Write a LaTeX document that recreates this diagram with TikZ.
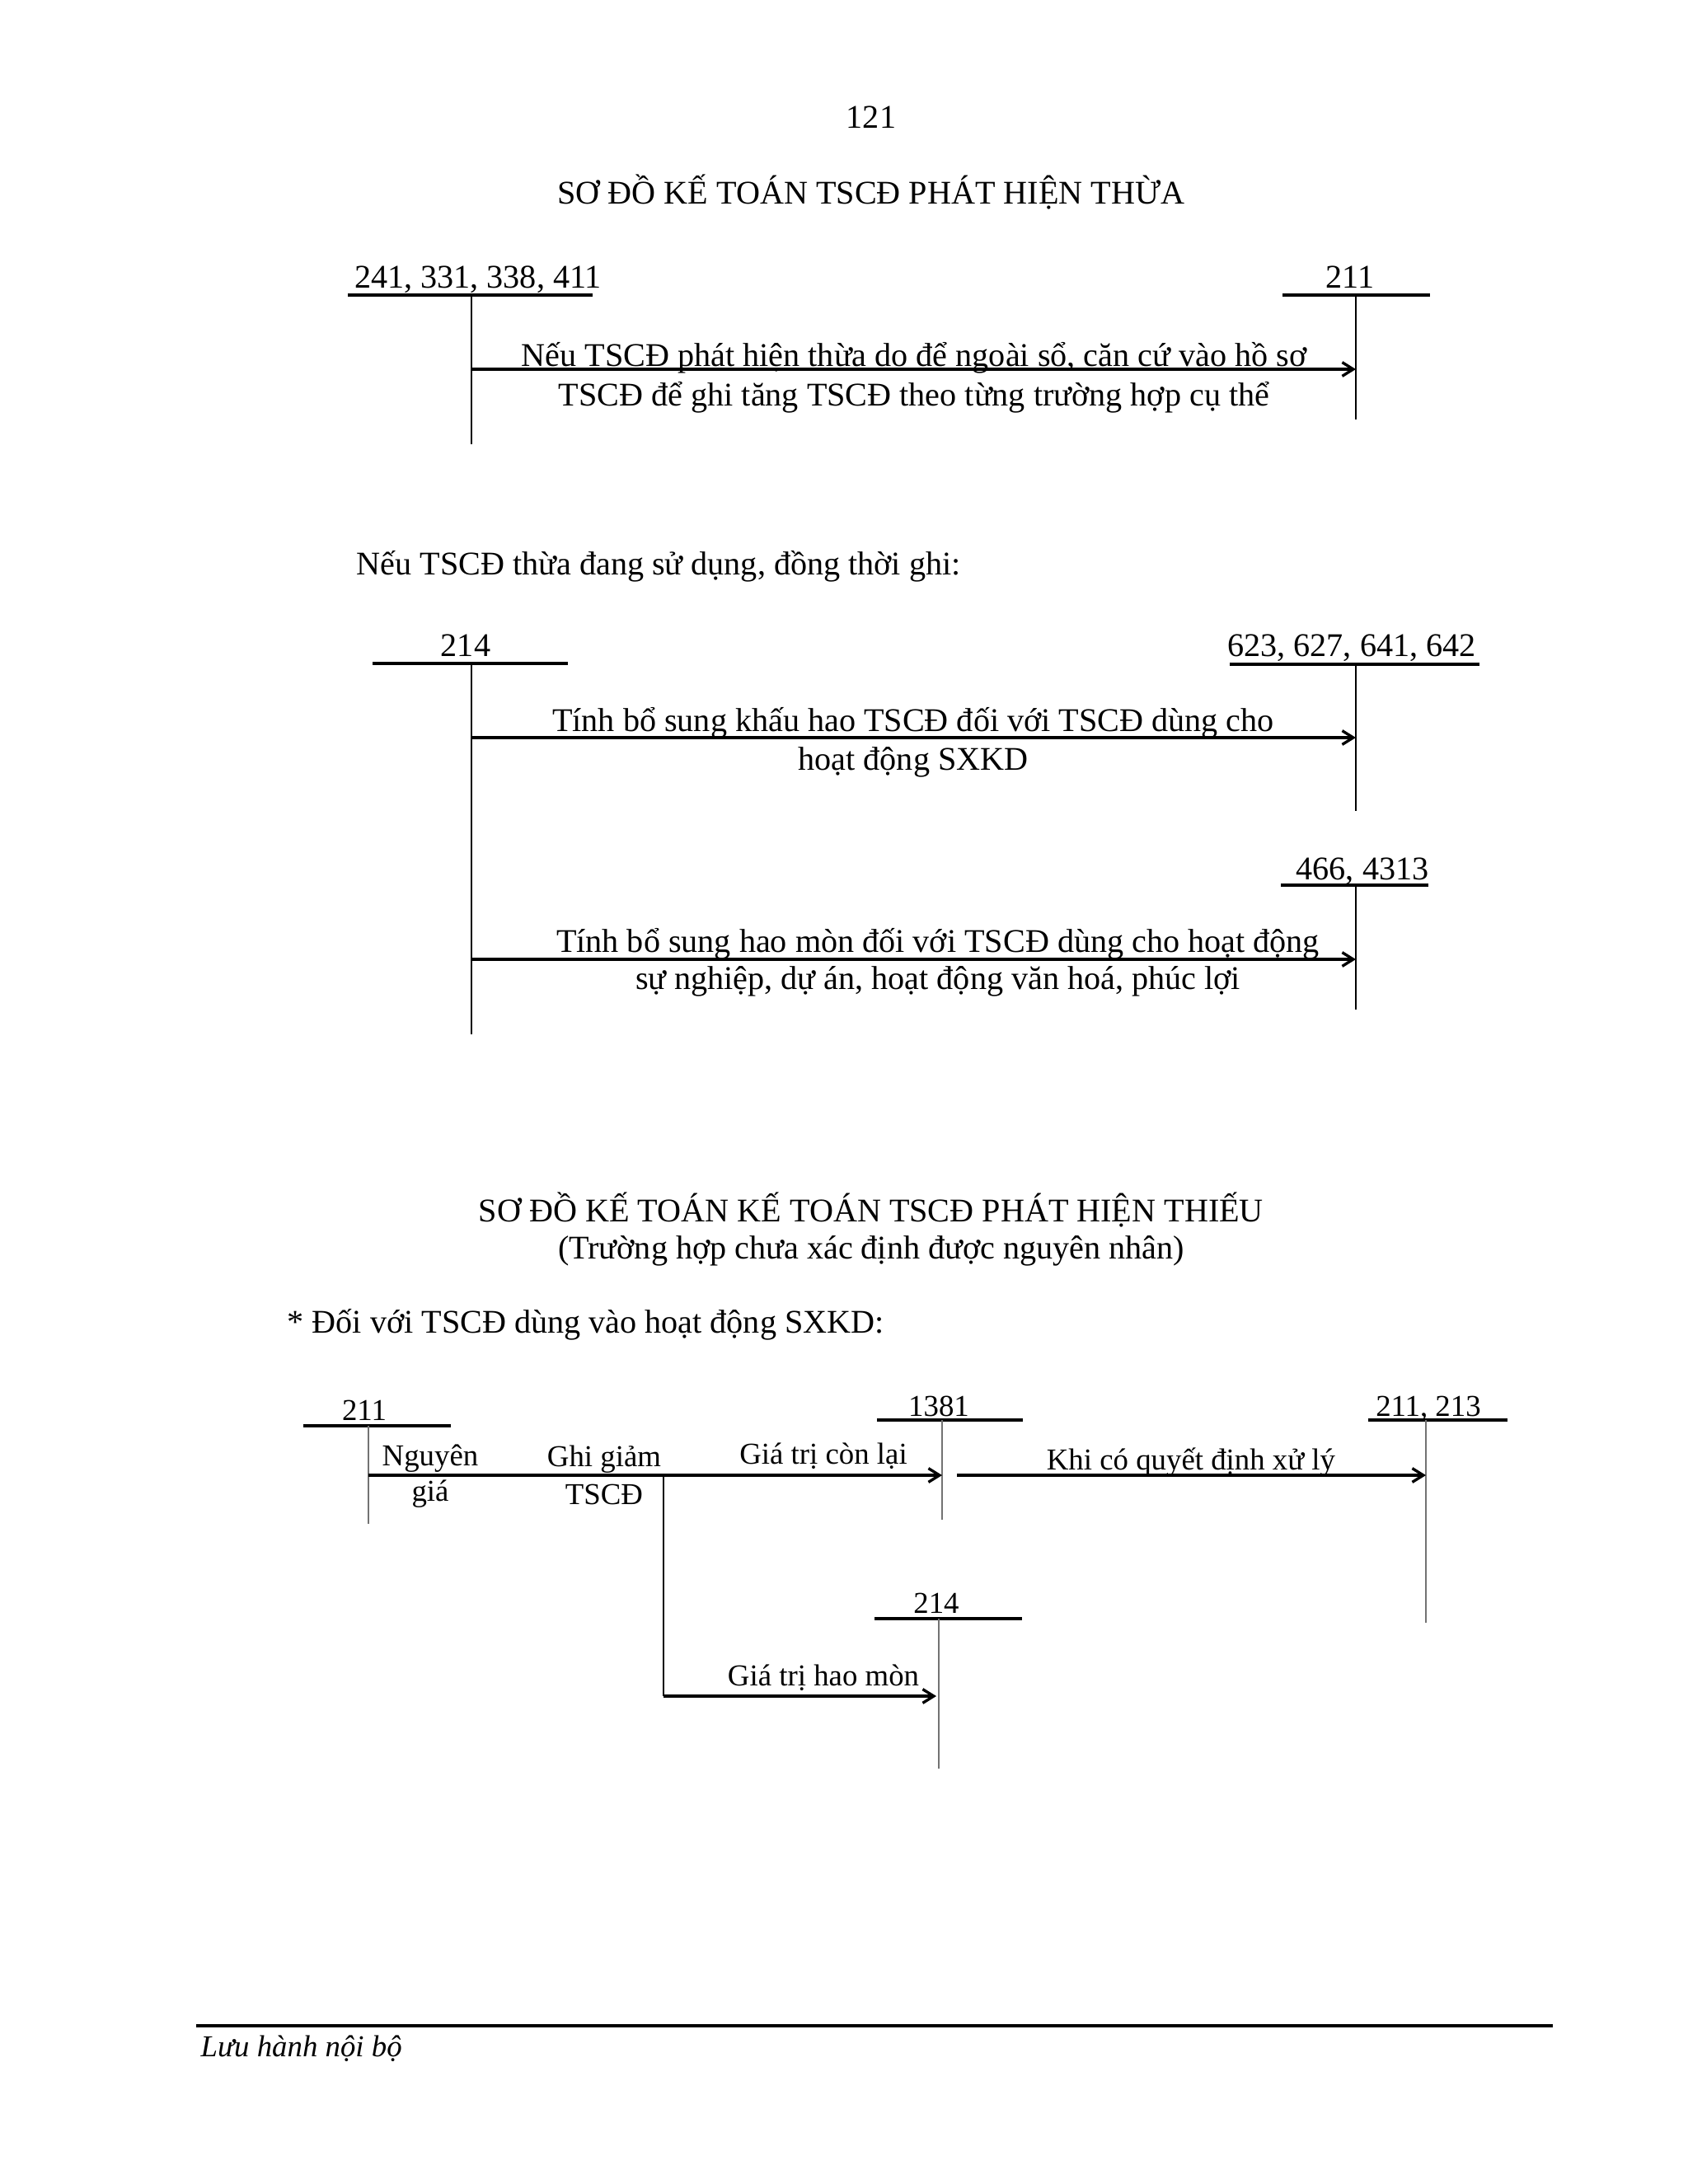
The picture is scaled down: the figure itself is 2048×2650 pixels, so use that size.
\documentclass[tikz,border=0pt]{standalone}
\usepackage{fontspec}
\setmainfont{Liberation Serif}
\usetikzlibrary{arrows.meta}
\begin{document}
\begin{tikzpicture}[x=0.29883pt,y=-0.29883pt,
  txt/.style={inner sep=0pt,anchor=base,font=\fontsize{12}{14}\selectfont},
  stxt/.style={inner sep=0pt,anchor=base,font=\fontsize{11}{13}\selectfont},
  uline/.style={line width=1pt},
  vline/.style={line width=0.5pt},
  gline/.style={line width=0.4pt,black!55},
  arr/.style={line width=1pt,-{Straight Barb[length=4pt,width=5pt]}},
]
\useasboundingbox (0,0) rectangle (2048,2650);
% page number and title
\node[txt] (pg) at (1057,155) {121};
\node[txt] (title1) at (1057,247) {SƠ ĐỒ KẾ TOÁN TSCĐ PHÁT HIỆN THỪA};
% diagram 1
\node[txt] (a1) at (580,349) {241, 331, 338, 411};
\node[txt] (b1) at (1638,349) {211};
\coordinate (a1l) at (422,358); \coordinate (a1r) at (719,358);
\coordinate (a1t) at (572,358); \coordinate (a1b) at (572,539);
\coordinate (b1l) at (1556,358); \coordinate (b1r) at (1735,358);
\coordinate (b1t) at (1645,358); \coordinate (b1b) at (1645,509);
\draw[uline] (a1l) -- (a1r);
\draw[uline] (b1l) -- (b1r);
\draw[vline] (a1t) -- (a1b);
\draw[vline] (b1t) -- (b1b);
\coordinate (e1s) at (572,448); \coordinate (e1e) at (1645,448);
\draw[arr] (e1s) -- (e1e);
\node[txt] (t1a) at (1109,444) {Nếu TSCĐ phát hiện thừa do để ngoài sổ, căn cứ vào hồ sơ};
\node[txt] (t1b) at (1109,492) {TSCĐ để ghi tăng TSCĐ theo từng trường hợp cụ thể};
% note
\node[txt,anchor=base west] (note1) at (432,697) {Nếu TSCĐ thừa đang sử dụng, đồng thời ghi:};
% diagram 2
\node[txt] (a2) at (565,796) {214};
\node[txt] (b2) at (1640,796) {623, 627, 641, 642};
\node[txt] (c2) at (1653,1067) {466, 4313};
\coordinate (a2l) at (452,805); \coordinate (a2r) at (689,805);
\coordinate (a2t) at (572,805); \coordinate (a2b) at (572,1255);
\coordinate (b2l) at (1492,806); \coordinate (b2r) at (1795,806);
\coordinate (b2t) at (1645,806); \coordinate (b2b) at (1645,984);
\coordinate (c2l) at (1554,1074); \coordinate (c2r) at (1733,1074);
\coordinate (c2t) at (1645,1074); \coordinate (c2b) at (1645,1225);
\draw[uline] (a2l) -- (a2r);
\draw[uline] (b2l) -- (b2r);
\draw[uline] (c2l) -- (c2r);
\draw[vline] (a2t) -- (a2b);
\draw[vline] (b2t) -- (b2b);
\draw[vline] (c2t) -- (c2b);
\coordinate (e2s) at (572,895); \coordinate (e2e) at (1645,895);
\coordinate (e3s) at (572,1164); \coordinate (e3e) at (1645,1164);
\draw[arr] (e2s) -- (e2e);
\draw[arr] (e3s) -- (e3e);
\node[txt] (t2a) at (1108,887) {Tính bổ sung khấu hao TSCĐ đối với TSCĐ dùng cho};
\node[txt] (t2b) at (1108,934) {hoạt động SXKD};
\node[txt] (t3a) at (1138,1155) {Tính bổ sung hao mòn đối với TSCĐ dùng cho hoạt động};
\node[txt] (t3b) at (1138,1200) {sự nghiệp, dự án, hoạt động văn hoá, phúc lợi};
% title 2
\node[txt] (title2) at (1057,1482) {SƠ ĐỒ KẾ TOÁN KẾ TOÁN TSCĐ PHÁT HIỆN THIẾU};
\node[txt] (sub2) at (1057,1527) {(Trường hợp chưa xác định được nguyên nhân)};
\node[txt,anchor=base west] (note2) at (348,1617) {* Đối với TSCĐ dùng vào hoạt động SXKD:};
% diagram 3
\node[stxt] (a3) at (442,1723) {211};
\node[stxt] (b3) at (1139,1718) {1381};
\node[stxt] (c3) at (1733,1718) {211, 213};
\node[stxt] (d3) at (1136,1957) {214};
\coordinate (a3l) at (368,1730); \coordinate (a3r) at (547,1730);
\coordinate (a3t) at (447,1730); \coordinate (a3b) at (447,1849);
\coordinate (b3l) at (1064,1723); \coordinate (b3r) at (1241,1723);
\coordinate (b3t) at (1143,1723); \coordinate (b3b) at (1143,1844);
\coordinate (c3l) at (1660,1723); \coordinate (c3r) at (1829,1723);
\coordinate (c3t) at (1730,1723); \coordinate (c3b) at (1730,1969);
\coordinate (d3l) at (1061,1964); \coordinate (d3r) at (1240,1964);
\coordinate (d3t) at (1139,1964); \coordinate (d3b) at (1139,2146);
\draw[uline] (a3l) -- (a3r);
\draw[uline] (b3l) -- (b3r);
\draw[uline] (c3l) -- (c3r);
\draw[uline] (d3l) -- (d3r);
\draw[gline] (a3t) -- (a3b);
\draw[gline] (b3t) -- (b3b);
\draw[gline] (c3t) -- (c3b);
\draw[gline] (d3t) -- (d3b);
\coordinate (e4s) at (447,1790); \coordinate (e4e) at (1143,1790);
\coordinate (e5s) at (1161,1790); \coordinate (e5e) at (1730,1790);
\coordinate (br) at (805,1790); \coordinate (brd) at (805,2058);
\coordinate (e6e) at (1136,2058);
\draw[arr] (e4s) -- (e4e);
\draw[arr] (e5s) -- (e5e);
\draw[line width=0.7pt] (br) -- (brd);
\draw[arr] (brd) -- (e6e);
\node[stxt] (t4a) at (522,1778) {Nguyên};
\node[stxt] (t4b) at (522,1821) {giá};
\node[stxt] (t5a) at (733,1779) {Ghi giảm};
\node[stxt] (t5b) at (733,1825) {TSCĐ};
\node[stxt] (t6) at (999,1776) {Giá trị còn lại};
\node[stxt] (t7) at (1445,1783) {Khi có quyết định xử lý};
\node[stxt] (t8) at (999,2045) {Giá trị hao mòn};
% footer
\coordinate (fl) at (238,2458); \coordinate (fr) at (1884,2458);
\draw[line width=1.2pt] (fl) -- (fr);
\node[txt,anchor=base west,font=\fontsize{11}{13}\selectfont\itshape] (foot) at (243,2495) {Lưu hành nội bộ};
\end{tikzpicture}
\end{document}
